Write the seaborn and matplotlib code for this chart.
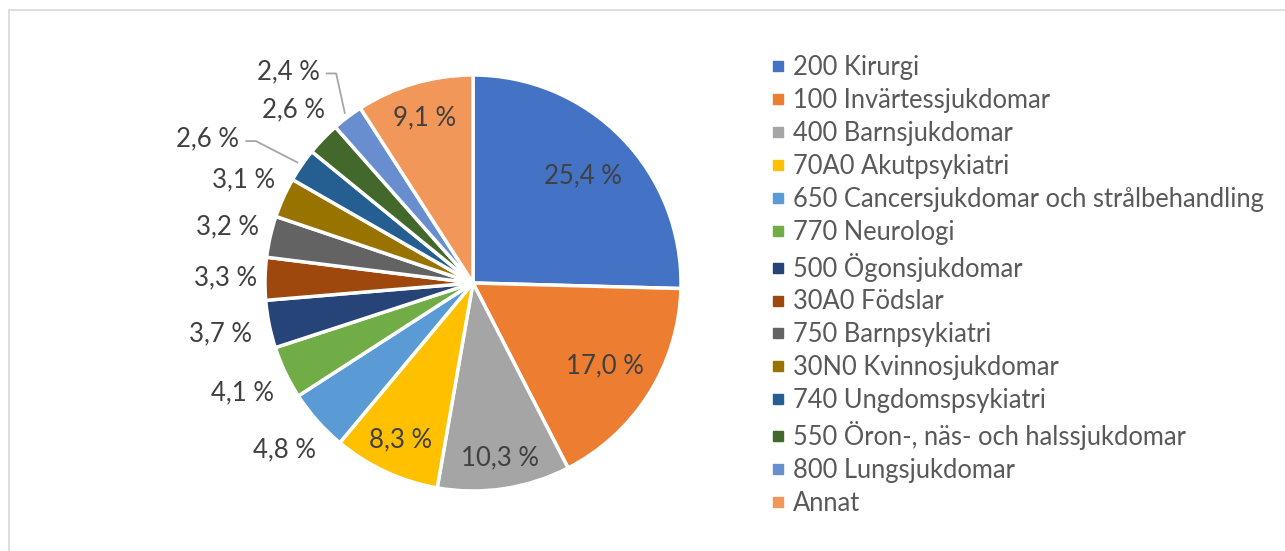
import matplotlib
matplotlib.use("Agg")
import numpy as np
import matplotlib.pyplot as plt
from matplotlib.lines import Line2D
import seaborn as sns

categories = [
    "200 Kirurgi",
    "100 Invärtessjukdomar",
    "400 Barnsjukdomar",
    "70A0 Akutpsykiatri",
    "650 Cancersjukdomar och strålbehandling",
    "770 Neurologi",
    "500 Ögonsjukdomar",
    "30A0 Födslar",
    "750 Barnpsykiatri",
    "30N0 Kvinnosjukdomar",
    "740 Ungdomspsykiatri",
    "550 Öron-, näs- och halssjukdomar",
    "800 Lungsjukdomar",
    "Annat",
]
shares = [25.4, 17.0, 10.3, 8.3, 4.8, 4.1, 3.7, 3.3, 3.2, 3.1, 2.6, 2.6, 2.4, 9.1]
share_labels = ["25,4 %", "17,0 %", "10,3 %", "8,3 %", "4,8 %", "4,1 %", "3,7 %",
                "3,3 %", "3,2 %", "3,1 %", "2,6 %", "2,6 %", "2,4 %", "9,1 %"]
colors = ["#4472C4", "#ED7D31", "#A5A5A5", "#FFC000", "#5B9BD5", "#70AD47", "#264478",
          "#9E480E", "#636363", "#997300", "#255E91", "#43682B", "#698ED0", "#F1975A"]

# label distance from centre (pie radius = 1), angle nudge in degrees, leader line
label_dist = [0.74, 0.75, 0.85, 0.83, 1.21, 1.23, 1.24, 1.19, 1.21, 1.21, 1.45, 1.20, 1.35, 0.83]
label_nudge = [0, 0, 0, 0, 0, 0, 0, 0, 0, 0, 6, 0, 4, 0]
leader = [False] * 10 + [True, False, True, False]

W, H = 1285, 551
CX, CY, R = 473, 283, 208      # pie centre and radius in pixels

sns.set_theme(style="white")
plt.rcParams["font.family"] = ["Lato", "DejaVu Sans"]

fig = plt.figure(figsize=(W / 100, H / 100), dpi=100)
ax = fig.add_axes([0, 0, 1, 1])

wedges, _ = ax.pie(shares, colors=colors, startangle=90, counterclock=False, radius=1,
                   wedgeprops=dict(edgecolor="white", linewidth=2.5))
ax.set_xlim(-CX / R, (W - CX) / R)
ax.set_ylim(-(H - CY) / R, CY / R)
ax.set_aspect("equal")
ax.axis("off")

texts = []
for w, lab, d, nud in zip(wedges, share_labels, label_dist, label_nudge):
    mid = np.deg2rad((w.theta1 + w.theta2) / 2 + nud)
    t = ax.text(d * np.cos(mid), d * np.sin(mid), lab, ha="center", va="center",
                fontsize=18.5, color="#404040")
    texts.append(t)

# leader lines: short horizontal from the label, then straight to the slice edge
fig.canvas.draw()
renderer = fig.canvas.get_renderer()
inv = ax.transData.inverted()
for w, t, has_line in zip(wedges, texts, leader):
    if not has_line:
        continue
    mid = np.deg2rad((w.theta1 + w.theta2) / 2)
    bb = t.get_window_extent(renderer)
    x0, y0 = inv.transform((bb.x1 + 6, (bb.y0 + bb.y1) / 2 - 2))
    x1 = x0 + 0.05
    ex, ey = 1.02 * np.cos(mid), 1.02 * np.sin(mid)
    ax.plot([x0, x1, ex], [y0, y0, ey], color="#A6A6A6", lw=1.3, solid_capstyle="butt")

handles = [Line2D([], [], marker="s", linestyle="none", markersize=7,
                  markerfacecolor=c, markeredgecolor=c) for c in colors]
ax.legend(handles, categories, loc="upper left", bbox_to_anchor=(770 / W, 1 - 55 / H),
          bbox_transform=fig.transFigure, frameon=False, fontsize=18.4,
          handlelength=0.6, handletextpad=0.3, labelspacing=0.31,
          borderpad=0, borderaxespad=0, labelcolor="#595959")

# chart area border (only top and left edges are inside the picture)
fig.add_artist(Line2D([9 / W, 9 / W], [0, 1 - 10 / H], transform=fig.transFigure,
                      color="#D9D9D9", lw=1.2))
fig.add_artist(Line2D([9 / W, 1], [1 - 10 / H, 1 - 10 / H], transform=fig.transFigure,
                      color="#D9D9D9", lw=1.2))

fig.savefig("out.png", dpi=100, facecolor="white")
